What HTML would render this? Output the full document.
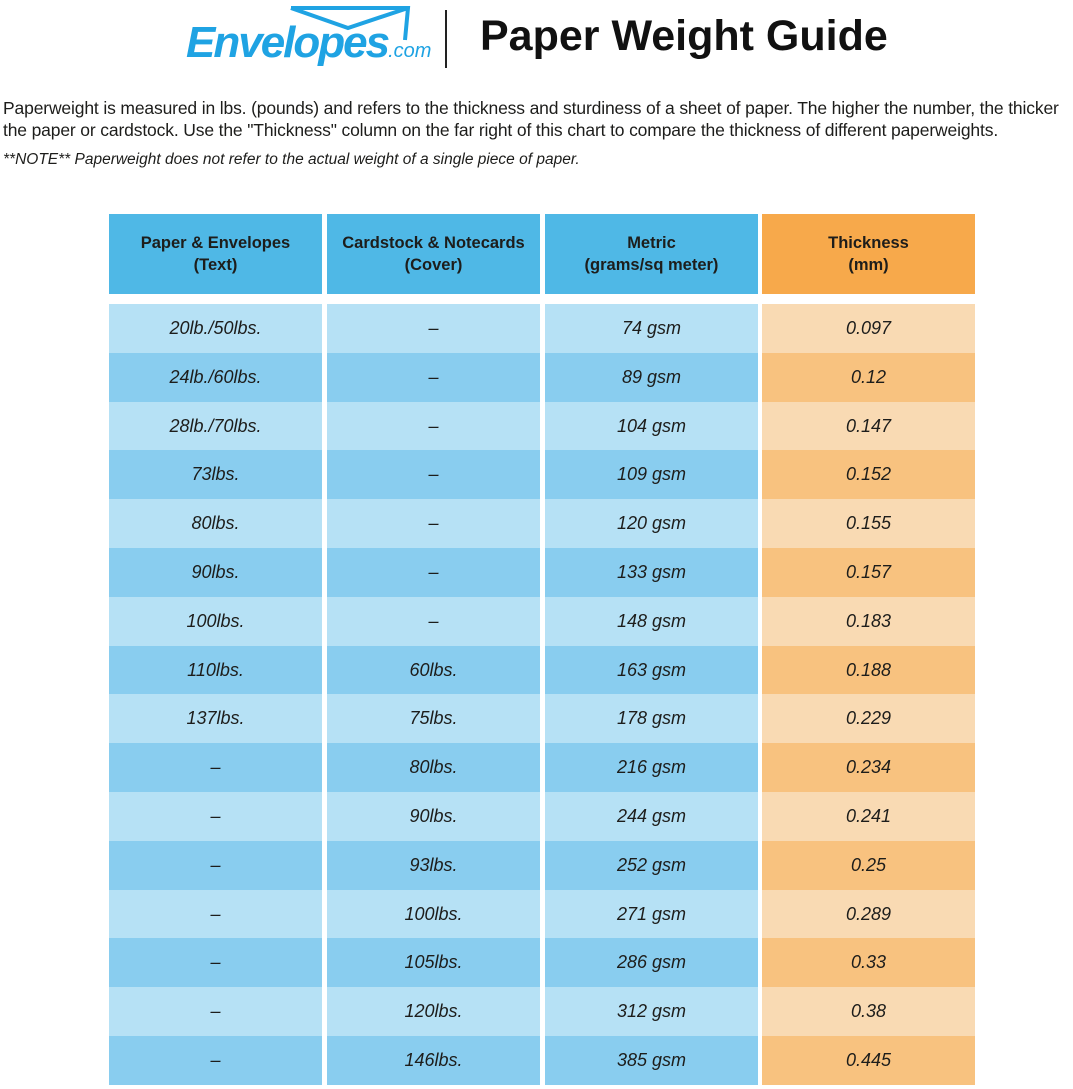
<!DOCTYPE html>
<html><head><style>
body{margin:0;width:1073px;height:1089px;background:#fff;font-family:"Liberation Sans",sans-serif;color:#1d1d1b;position:relative;overflow:hidden}
.logo{position:absolute;left:186px;top:18px;font-size:44px;font-weight:bold;font-style:italic;color:#1fa3e3;letter-spacing:-2px}
.logo small{font-size:20px;font-weight:normal;letter-spacing:0}
.bar{position:absolute;left:445px;top:10px;width:2px;height:58px;background:#222}
.title{position:absolute;left:480px;top:12px;font-size:43px;font-weight:bold;color:#111}
.p{position:absolute;left:3px;top:97px;font-size:17.5px;line-height:22px;white-space:nowrap;letter-spacing:-0.15px}
.n{position:absolute;left:3px;top:151px;font-size:15.5px;font-style:italic}
.cell{position:absolute;display:flex;align-items:center;justify-content:center;text-align:center;font-size:18px;font-style:italic}
.h{font-style:normal;font-weight:bold;font-size:16.5px;line-height:22px}
</style></head><body>
<svg style="position:absolute;left:283px;top:4px" width="130" height="40"><path d="M8 4 L125 4 L122 36 M8 4 L65 24 L125 4" stroke="#1fa3e3" stroke-width="4" fill="none"/></svg>
<div class="logo">Envelopes<small>.com</small></div>
<div class="bar"></div>
<div class="title">Paper Weight Guide</div>
<div class="p">Paperweight is measured in lbs. (pounds) and refers to the thickness and sturdiness of a sheet of paper. The higher the number, the thicker<br>the paper or cardstock. Use the "Thickness" column on the far right of this chart to compare the thickness of different paperweights.</div>
<div class="n">**NOTE** Paperweight does not refer to the actual weight of a single piece of paper.</div>
<div id="t"></div>
<script>
var xs=[109,327,545,762],w=213;
var hd=["Paper &amp; Envelopes<br>(Text)","Cardstock &amp; Notecards<br>(Cover)","Metric<br>(grams/sq meter)","Thickness<br>(mm)"];
var rows=[["20lb./50lbs.","–","74 gsm","0.097"],["24lb./60lbs.","–","89 gsm","0.12"],["28lb./70lbs.","–","104 gsm","0.147"],["73lbs.","–","109 gsm","0.152"],["80lbs.","–","120 gsm","0.155"],["90lbs.","–","133 gsm","0.157"],["100lbs.","–","148 gsm","0.183"],["110lbs.","60lbs.","163 gsm","0.188"],["137lbs.","75lbs.","178 gsm","0.229"],["–","80lbs.","216 gsm","0.234"],["–","90lbs.","244 gsm","0.241"],["–","93lbs.","252 gsm","0.25"],["–","100lbs.","271 gsm","0.289"],["–","105lbs.","286 gsm","0.33"],["–","120lbs.","312 gsm","0.38"],["–","146lbs.","385 gsm","0.445"]];
var s="";
for(var c=0;c<4;c++){s+='<div class="cell h" style="left:'+xs[c]+'px;top:214px;width:'+w+'px;height:80px;background:'+(c==3?'#f7a94b':'#4fb8e6')+'">'+hd[c]+'</div>';}
for(var r=0;r<16;r++){var y=304+r*48.8;for(c=0;c<4;c++){var bg=c==3?(r%2?'#f8c27f':'#f9dab3'):(r%2?'#89cdef':'#b6e1f5');
s+='<div class="cell" style="left:'+xs[c]+'px;top:'+y+'px;width:'+w+'px;height:49px;background:'+bg+'">'+rows[r][c]+'</div>';}}
document.getElementById('t').innerHTML=s;
</script>
</body></html>
